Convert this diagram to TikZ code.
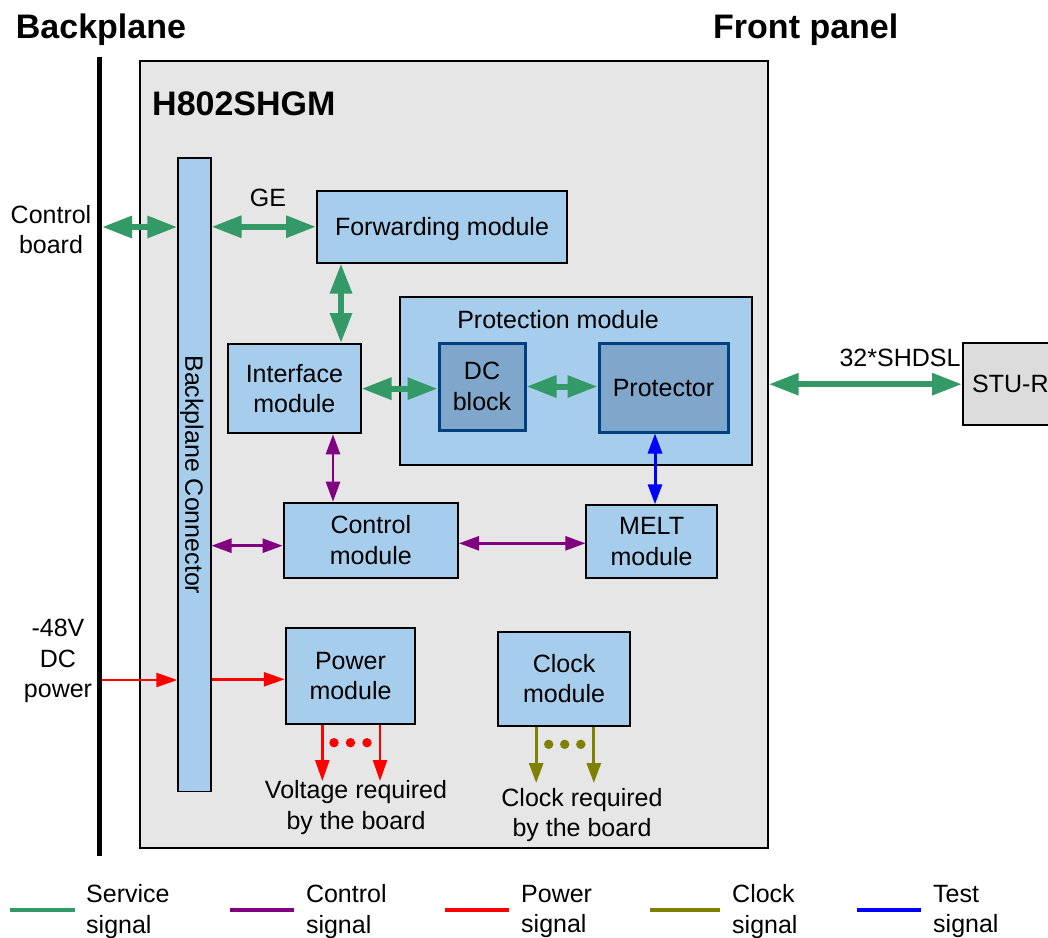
\documentclass[tikz,border=0pt]{standalone}
\usepackage{fontspec}
\setmainfont{Liberation Sans}
\usetikzlibrary{arrows.meta}
\definecolor{lblue}{RGB}{166,205,236}
\definecolor{dblue}{RGB}{127,166,203}
\definecolor{nblue}{RGB}{0,64,128}
\definecolor{cardgray}{RGB}{230,230,230}
\definecolor{stugray}{RGB}{220,220,220}
\definecolor{sgreen}{RGB}{51,153,102}
\definecolor{spurple}{RGB}{128,0,128}
\definecolor{sred}{RGB}{255,0,0}
\definecolor{solive}{RGB}{128,128,0}
\definecolor{sblue}{RGB}{0,0,255}
\tikzset{
  body/.style={font=\fontsize{25}{30.5}\selectfont},
  titletext/.style={font=\fontsize{34}{40}\selectfont\bfseries, inner sep=0pt, anchor=base west},
  modbox/.style={draw=black, line width=2pt, fill=lblue, body, align=center, inner sep=0pt},
  darkbox/.style={draw=nblue, line width=3pt, fill=dblue, body, align=center, inner sep=0pt},
  freetext/.style={body, align=center, inner sep=0pt},
  svc/.style={draw=sgreen, line width=6pt, arrows={Triangle[length=30pt,width=21pt]-Triangle[length=30pt,width=21pt]}},
  ctl/.style={draw=spurple, line width=2.5pt, arrows={Triangle[length=20pt,width=14pt]-Triangle[length=20pt,width=14pt]}},
  tst/.style={draw=sblue, line width=3pt, arrows={Triangle[length=20pt,width=14pt]-Triangle[length=20pt,width=14pt]}},
  pwrline/.style={draw=sred, line width=2.5pt, arrows={-Triangle[length=21pt,width=14pt]}},
  clkline/.style={draw=solive, line width=3pt, arrows={-Triangle[length=20pt,width=14pt]}},
  legline/.style={line width=4pt},
  legtext/.style={body, align=left, inner sep=0pt, anchor=west},
}
\begin{document}
\begin{tikzpicture}[x=1pt,y=-1pt]
\useasboundingbox (0,0) rectangle (1048,937);

% titles
\node[titletext] (tbp) at (15.7,38.3) {Backplane};
\node[titletext] (tfp) at (713,38.3) {Front panel};

% backplane line
\coordinate (bptop) at (99.5,57);
\coordinate (bpbot) at (99.5,856);
\draw[line width=5pt] (bptop) -- (bpbot);

% card
\node[draw=black, line width=2pt, fill=cardgray, minimum width=628.2pt, minimum height=787.6pt, inner sep=0pt] (card) at (453.6,454.5) {};
\node[titletext] (tcard) at (152,115) {H802SHGM};

% backplane connector
\node[draw=black, line width=1.5pt, fill=lblue, minimum width=32.7pt, minimum height=633.7pt, inner sep=0pt] (bc) at (194.4,474.85) {};
\node[freetext, rotate=-90, text depth=0pt] (bctext) at (bc.center) {Backplane Connector};

% modules
\node[modbox, minimum width=250pt, minimum height=71.5pt, text depth=0pt] (fwd) at (442,226.75) {Forwarding module};
\node[modbox, minimum width=351.5pt, minimum height=168pt] (prot) at (575.75,380.5) {};
\node[freetext] (protlabel) at (558,319.5) {Protection module};
\node[darkbox, minimum width=86pt, minimum height=87pt] (dc) at (482,386.5) {DC\\block};
\node[darkbox, minimum width=129pt, minimum height=88.5pt] (prtr) at (663.5,387.75) {Protector};
\node[modbox, minimum width=132.2pt, minimum height=89.3pt] (iface) at (294.4,388.65) {Interface\\module};
\node[modbox, minimum width=174.4pt, minimum height=75pt] (ctrl) at (370.8,540.2) {Control\\module};
\node[modbox, minimum width=130.4pt, minimum height=72.4pt] (melt) at (651.6,541.5) {MELT\\module};
\node[modbox, minimum width=129.5pt, minimum height=96.6pt] (pwr) at (350.5,676) {Power\\module};
\node[modbox, minimum width=132.6pt, minimum height=94pt] (clk) at (564.1,678.7) {Clock\\module};

% STU-R
\node[draw=black, line width=2pt, fill=stugray, minimum width=150pt, minimum height=81.7pt, inner sep=0pt] (stu) at (1038,384.2) {};
\node[freetext, anchor=west] (stutext) at ([xshift=10pt]stu.west) {STU-R};

% left labels
\node[freetext] (cblabel) at (51,229.5) {Control\\board};
\node[freetext] (pwrlabel) at (58,661) {-48V\\DC\\power};

% service connectors
\coordinate (cbstart) at (102,227);
\draw[svc] (cbstart) -- (cbstart -| bc.west);
\draw[svc] (bc.east |- fwd.west) -- (fwd.west);
\node[freetext] (ge) at (268,198) {GE};
\coordinate (xfi) at (341,0);
\draw[svc] (fwd.south -| xfi) -- (iface.north -| xfi);
\draw[svc] (iface.east) -- (iface.east -| dc.west);
\draw[svc] (dc.east) -- (dc.east -| prtr.west);
\draw[svc] (card.east |- stu.west) -- (stu.west);
\node[freetext] (shdsl) at (900,358.3) {32*SHDSL};

% control connectors
\coordinate (xic) at (333,0);
\draw[ctl] (iface.south -| xic) -- (ctrl.north -| xic);
\coordinate (ybc) at (0,545.7);
\draw[ctl] (bc.east |- ybc) -- (ctrl.west |- ybc);
\coordinate (ycm) at (0,543.3);
\draw[ctl] (ctrl.east |- ycm) -- (melt.west |- ycm);

% test connector
\coordinate (xpm) at (655,0);
\draw[tst] (prtr.south -| xpm) -- (melt.north -| xpm);

% power connectors
\coordinate (pwrstart) at (102,680);
\draw[pwrline] (pwrstart) -- (pwrstart -| bc.west);
\coordinate (ybp) at (0,679.3);
\draw[pwrline] (bc.east |- ybp) -- (pwr.west |- ybp);
\coordinate (pv1) at (322.3,781);
\coordinate (pv2) at (380,781);
\draw[pwrline] (pwr.south -| pv1) -- (pv1);
\draw[pwrline] (pwr.south -| pv2) -- (pv2);
\fill[sred] (334,742.7) circle (4.7pt) (350.5,742.7) circle (4.7pt) (367,742.7) circle (4.7pt);
\node[freetext] (vlabel) at (356,807.6) {Voltage required\\by the board};

% clock connectors
\coordinate (cv1) at (536.2,783);
\coordinate (cv2) at (593.8,783);
\draw[clkline] (clk.south -| cv1) -- (cv1);
\draw[clkline] (clk.south -| cv2) -- (cv2);
\fill[solive] (548.7,744.3) circle (4.7pt) (564.7,744.3) circle (4.7pt) (580.8,744.3) circle (4.7pt);
\node[freetext] (clabel) at (582,814.8) {Clock required\\by the board};

% legend
\coordinate (lg1a) at (9.8,910); \coordinate (lg1b) at (74.6,910);
\coordinate (lg2a) at (229.5,910); \coordinate (lg2b) at (293.8,910);
\coordinate (lg3a) at (445,910); \coordinate (lg3b) at (509,910);
\coordinate (lg4a) at (650,910); \coordinate (lg4b) at (720,910);
\coordinate (lg5a) at (856.7,910); \coordinate (lg5b) at (921,910);
\draw[legline, sgreen] (lg1a) -- (lg1b);
\draw[legline, spurple] (lg2a) -- (lg2b);
\draw[legline, sred] (lg3a) -- (lg3b);
\draw[legline, solive] (lg4a) -- (lg4b);
\draw[legline, sblue] (lg5a) -- (lg5b);
\node[legtext] (lt1) at (86,911.6) {Service\\signal};
\node[legtext] (lt2) at (305.8,911.6) {Control\\signal};
\node[legtext] (lt3) at (521,911.6) {Power\\signal};
\node[legtext] (lt4) at (732,911.6) {Clock\\signal};
\node[legtext] (lt5) at (933,911.6) {Test\\signal};
\end{tikzpicture}
\end{document}
